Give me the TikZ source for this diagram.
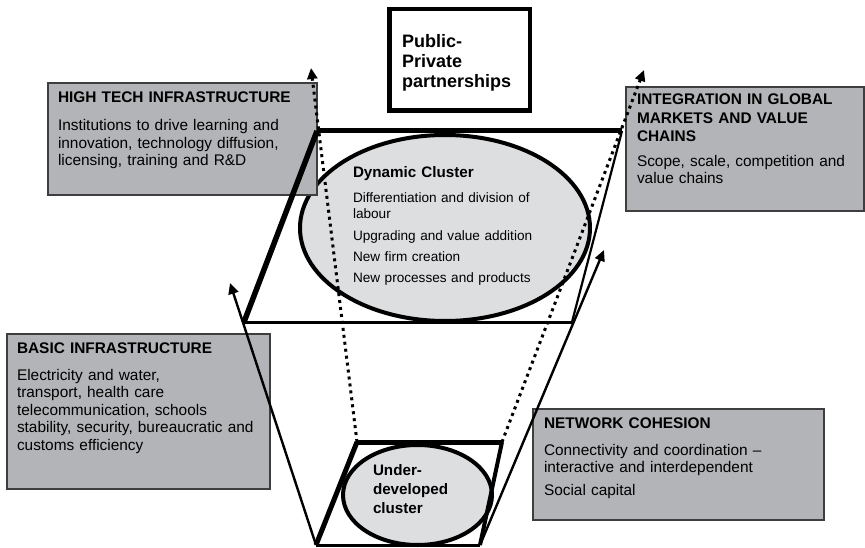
\documentclass[tikz,border=0pt]{standalone}
\usepackage{fontspec}
\setmainfont{Liberation Sans}
\usetikzlibrary{arrows.meta}
\usetikzlibrary{shapes.geometric}
\definecolor{boxgrey}{RGB}{179,180,183}
\definecolor{boxline}{RGB}{62,62,62}
\definecolor{ovalgrey}{RGB}{221,222,224}

\begin{document}
\begin{tikzpicture}[y=1pt, x=1pt, yscale=-1, xscale=1, inner sep=0pt, outer sep=0pt,
    infobox/.style={fill=boxgrey,draw=boxline,line width=1.4pt,anchor=north west},
    clusteroval/.style={ellipse,fill=ovalgrey,draw=black,line width=4pt},
    headtext/.style={anchor=base west,align=left,text width=250pt,
      font=\fontsize{15.4}{18.5}\selectfont\bfseries},
    bodytext/.style={anchor=base west,align=left,text width=260pt,
      font=\fontsize{15.4}{17.5}\selectfont},
    dots/.style={draw=black,line width=3pt,dash pattern=on 3pt off 4pt,
      -{Triangle[length=11pt,width=10pt]}},
    push/.style={draw=black,line width=2.4pt,-{Triangle[length=11pt,width=10pt]}}]
  \useasboundingbox (0,0) rectangle (865,548);

  % corners of the two planes
  \coordinate (bigTL) at (317,131);
  \coordinate (bigTR) at (622,131);
  \coordinate (bigBR) at (572,322);
  \coordinate (bigBL) at (244,322);
  \coordinate (smallTL) at (357,442);
  \coordinate (smallTR) at (502,442);
  \coordinate (smallBR) at (480,545);
  \coordinate (smallBL) at (316,545);
  % free ends of the arrows
  \coordinate (basictip) at (230,283);
  \coordinate (globaltip) at (604,250);
  \coordinate (techtip) at (311,68);
  \coordinate (markettip) at (644,70);

  % clusters
  \node[clusteroval,minimum width=290,minimum height=186] (dynamic) at (445,228) {};
  \node[clusteroval,minimum width=149,minimum height=100] (under) at (417.5,495) {};

  % grey boxes
  \node[infobox,minimum width=269,minimum height=112] (hightech) at (48,83) {};
  \node[infobox,minimum width=238,minimum height=124] (global) at (626,87) {};
  \node[infobox,minimum width=263,minimum height=155] (basic) at (7,334) {};
  \node[infobox,minimum width=291,minimum height=111] (network) at (533,409) {};

  % upper plane
  \path[draw=black,line join=miter,line cap=butt,line width=5pt]
    (bigTL) -- (bigTR);
  \path[draw=black,line join=miter,line cap=butt,line width=5.5pt]
    (bigTL) -- (bigBL);
  \path[draw=black,line join=miter,line cap=butt,line width=2.2pt]
    (bigTR) -- (bigBR);
  \path[draw=black,line join=miter,line cap=butt,line width=3pt]
    (bigBL) -- (bigBR);

  % lower plane
  \path[draw=black,line join=miter,line cap=butt,line width=5pt]
    (smallTL) -- (smallTR);
  \path[draw=black,line join=miter,line cap=butt,line width=5pt]
    (smallTL) -- (smallBL);
  \path[draw=black,line join=miter,line cap=butt,line width=4pt]
    (smallTR) -- (smallBR);
  \path[draw=black,line join=miter,line cap=butt,line width=3pt]
    (smallBL) -- (smallBR);

  % arrows out of the lower plane
  \path[push] (smallBL) -- (basictip);
  \path[push] (smallBR) -- (globaltip);
  \path[dots] (smallTL) -- (techtip);
  \path[dots] (smallTR) -- (markettip);

  % partnership box
  \node[draw=black,fill=white,line width=4.5pt,anchor=north west,
    minimum width=140.5,minimum height=101.5] (ppp) at (389.25,9.25) {};
  \node[anchor=base west,align=left,text width=125pt,
    font=\fontsize{18}{20}\selectfont\bfseries] (ppptext) at (402,48)
    {Public-\\Private\\partnerships};

  % box texts
  \node[headtext] (hightechhead) at (58,103) {HIGH TECH INFRASTRUCTURE};
  \node[bodytext] (hightechbody) at (58,131)
    {Institutions to drive learning and\\innovation, technology diffusion,\\licensing, training and R\&D};
  \node[headtext,text width=215pt] (globalhead) at (637,105)
    {INTEGRATION IN GLOBAL\\MARKETS AND VALUE\\CHAINS};
  \node[bodytext,text width=215pt,font=\fontsize{15.4}{16.5}\selectfont] (globalbody) at (637,167)
    {Scope, scale, competition and\\value chains};
  \node[headtext] (basichead) at (17,353) {BASIC INFRASTRUCTURE};
  \node[bodytext] (basicbody) at (17,380)
    {Electricity and water,\\transport, health care\\telecommunication, schools\\stability, security, bureaucratic and\\customs efficiency};
  \node[headtext] (networkhead) at (544,428) {NETWORK COHESION};
  \node[bodytext] (networkbody) at (544,455)
    {Connectivity and coordination –\\interactive and interdependent\\[5pt]Social capital};

  % cluster texts
  \node[anchor=base west,align=left,text width=200pt,
    font=\fontsize{15.2}{18}\selectfont\bfseries] (dynamichead) at (353,178)
    {Dynamic Cluster};
  \node[anchor=base west,align=left,text width=200pt,
    font=\fontsize{13.6}{15.5}\selectfont] (dynamicbody) at (353,203)
    {Differentiation and division of\\labour\\[6.5pt]Upgrading and value addition\\[5.5pt]New firm creation\\[5.5pt]New processes and products};
  \node[anchor=base west,align=left,text width=100pt,
    font=\fontsize{15.2}{19}\selectfont\bfseries] (undertext) at (373,475)
    {Under-\\developed\\cluster};

\end{tikzpicture}
\end{document}
